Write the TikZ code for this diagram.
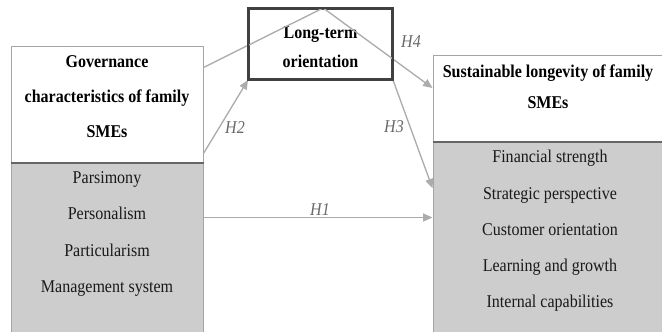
\documentclass[tikz,border=0pt]{standalone}
\usepackage{fontspec}
\setmainfont{Liberation Serif}[FakeStretch=0.89]
\usetikzlibrary{arrows.meta}

\definecolor{boxgray}{RGB}{205,205,205}
\definecolor{edgegray}{RGB}{165,165,165}
\definecolor{linkgray}{RGB}{172,172,172}
\definecolor{labgray}{RGB}{105,105,105}

\tikzset{every picture/.style={line width=0.75pt}}
\tikzset{
  headbox/.style={draw=edgegray, fill=white, inner sep=0pt},
  listbox/.style={draw=edgegray, fill=boxgray, inner sep=0pt},
  ltobox/.style={draw=black!75, line width=1.5pt, fill=none, inner sep=0pt},
  divider/.style={draw=black!60, line width=1.5pt},
  link/.style={draw=linkgray, line width=1pt, -{Triangle[length=7pt,width=6pt,fill=linkgray]}},
  hyp/.style={font=\fontsize{13.5pt}{14pt}\selectfont\itshape, text=labgray, inner sep=0.75pt},
  title/.style={align=center, inner sep=0pt, font=\fontsize{13.5pt}{#1}\selectfont\bfseries},
  items/.style={align=center, inner sep=0pt, text=black!90, font=\fontsize{13.5pt}{27.2pt}\selectfont},
}

\begin{document}
\begin{tikzpicture}[x=0.75pt,y=0.75pt,yscale=-1,xscale=1]
	\useasboundingbox (0,0) rectangle (662,332);
	\clip (0,0) rectangle (662,332);

	% Draw boxes
	\node [headbox, minimum width=144pt, minimum height=87pt] (govhead) at (107,104) {};
	\node [listbox, minimum width=144pt, minimum height=129pt] (govlist) at (107,248) {};
	\draw [divider] (govhead.south west) -- (govhead.south east);

	\node [headbox, minimum width=175.5pt, minimum height=64.5pt] (susthead) at (550,98) {};
	\node [listbox, minimum width=175.5pt, minimum height=144.75pt] (sustlist) at (550,237.5) {};
	\draw [divider] (susthead.south west) -- (susthead.south east);

	\node [ltobox, fill=white, minimum width=107.25pt, minimum height=52.5pt] (lto) at (320.5,44) {};

	% Draw box texts
	\node [title=26.25pt] (govtitle) at (107,97) {Governance\\characteristics of family\\SMEs};
	\node [items] (govitems) at (107,234) {Parsimony\\Personalism\\Particularism\\Management system};
	\node [title=21.75pt] (ltotitle) at (320.5,47.5) {Long-term\\orientation};
	\node [title=23.25pt] (susttitle) at (548,87) {Sustainable longevity of family\\SMEs};
	\node [items] (sustitems) at (550,231) {Financial strength\\Strategic perspective\\Customer orientation\\Learning and growth\\Internal capabilities};

	% Draw connectors (yshift is flipped by yscale=-1)
	\coordinate (peak) at ([xshift=2pt]lto.north);
	\draw [link] ([yshift=16.5pt]govhead.north east) -- (peak) -- ([yshift=-7.5pt]susthead.west);
	\draw [link] ([yshift=-6.75pt]govhead.south east) -- (lto.south west);
	\draw [link] (lto.south east) -- ([yshift=-37pt]sustlist.west);
	\coordinate (h1start) at ([yshift=42pt]govlist.north east);
	\draw [link] (h1start) -- (h1start -| sustlist.west);
	\draw [ltobox] (lto.south west) rectangle (lto.north east);

	% Add hypothesis labels
	\node [hyp] (hfour) at (411,42) {H4};
	\node [hyp] (htwo) at (235,128) {H2};
	\node [hyp] (hthree) at (394,127) {H3};
	\node [hyp] (hone) at (320,210) {H1};
\end{tikzpicture}
\end{document}
